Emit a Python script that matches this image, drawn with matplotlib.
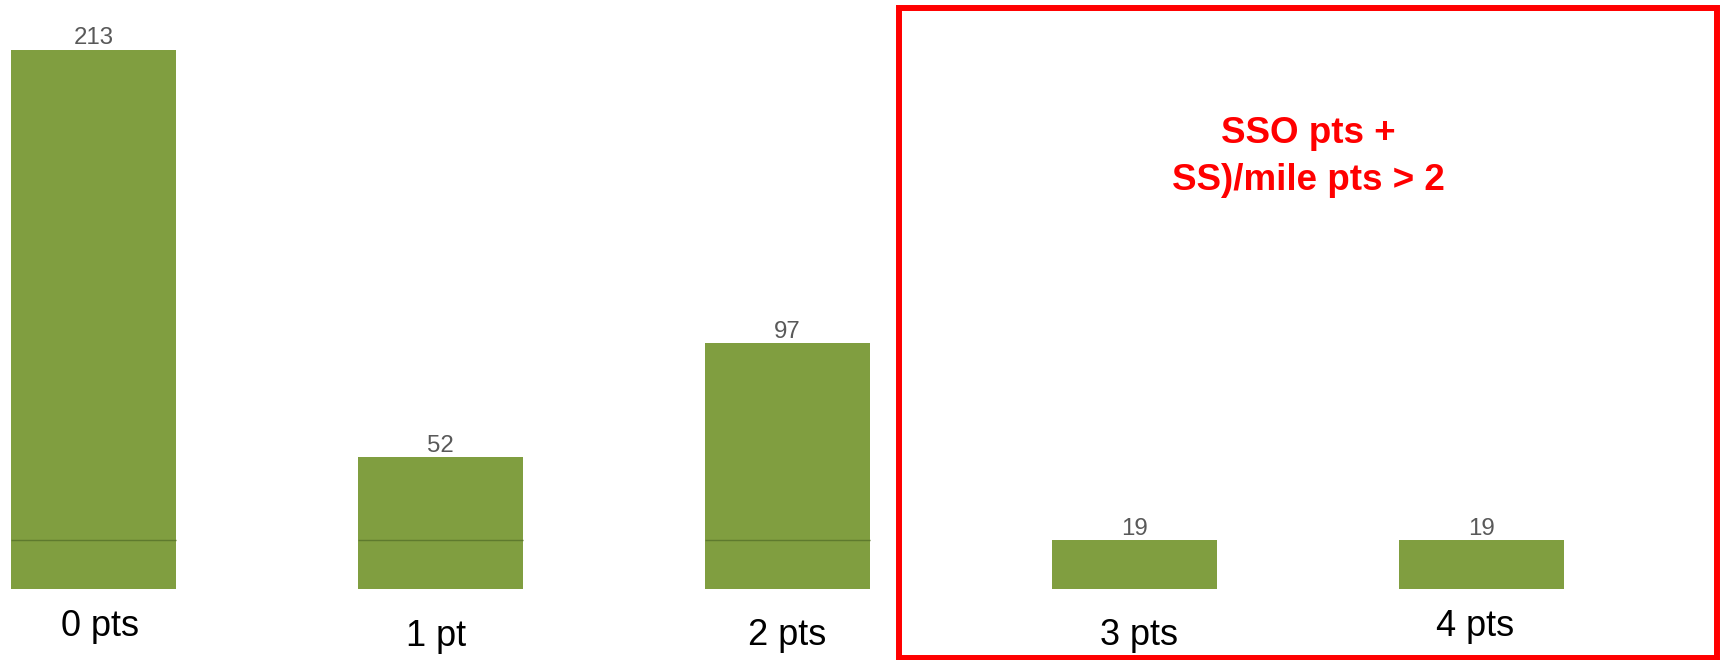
import matplotlib
matplotlib.use("Agg")
import matplotlib.pyplot as plt
from matplotlib.patches import Rectangle
from matplotlib.transforms import offset_copy

plt.rcParams['font.family'] = ['Liberation Sans', 'DejaVu Sans']

# ---- data ----
categories = ["0 pts", "1 pt", "2 pts", "3 pts", "4 pts"]
counts = [213, 52, 97, 19, 19]
baseline_level = 19          # the thin divider line drawn across the taller bars
note_lines = ["SSO pts +", "SS)/mile pts > 2"]

# ---- layout (pixels at dpi=100) ----
W, H = 1725, 660
bar_color = "#809E40"
divider_color = "#5E7A2E"
label_dx = [7, -4, 0, 5, -6]          # horizontal nudges of category labels (px)
label_dy = [48, 58, 56.5, 56.5, 48]   # baseline below bar bottom (px)

fig = plt.figure(figsize=(W / 100, H / 100), dpi=100)
ax = fig.add_axes([0, 0, 1, 1])
ax.set_axis_off()

x = list(range(len(categories)))
bar_w = 0.476
ax.bar(x, counts, width=bar_w, color=bar_color, edgecolor="none")

# divider line at the baseline level on bars taller than it
for xi, v in zip(x, counts):
    if v > baseline_level:
        ax.hlines(baseline_level, xi - bar_w / 2, xi + bar_w / 2,
                  color=divider_color, linewidth=1.0)

# scales: 0 at pixel row 588.5 from top, 2.5305 px per unit
px_per_unit = 539.0 / 213.0
y_bottom = -(H - 588.5) / px_per_unit
y_top = 588.5 / px_per_unit
ax.set_ylim(y_bottom, y_top)
spacing = 346.9
ax.set_xlim(-93.5 / spacing, (W - 93.5) / spacing)

# value labels
for xi, v in zip(x, counts):
    tr = offset_copy(ax.transData, fig=fig, x=0, y=5, units='dots')
    ax.text(xi, v, str(v), transform=tr, ha='center', va='baseline',
            fontsize=17.3, color="#595959")

# category labels
for xi, lab, dx, dy in zip(x, categories, label_dx, label_dy):
    tr = offset_copy(ax.transData, fig=fig, x=dx, y=-dy, units='dots')
    ax.text(xi, 0, lab, transform=tr, ha='center', va='baseline',
            fontsize=26, color="black")

# red highlight box (figure pixel coordinates)
x0, x1 = 899, 1717
y0, y1 = 7.5, 658
rect = Rectangle((x0 / W, 1 - y1 / H), (x1 - x0) / W, (y1 - y0) / H,
                 transform=fig.transFigure, fill=False, edgecolor="#FF0000",
                 linewidth=4.3, clip_on=False)
fig.patches.append(rect)

# red note text
cx = (x0 + x1) / 2 / W
for line, base in zip(note_lines, [143, 190]):
    fig.text(cx, 1 - base / H, line, ha='center', va='baseline',
             fontsize=26.5, fontweight='bold', color="#FF0000")

fig.savefig("out.png", dpi=100)
